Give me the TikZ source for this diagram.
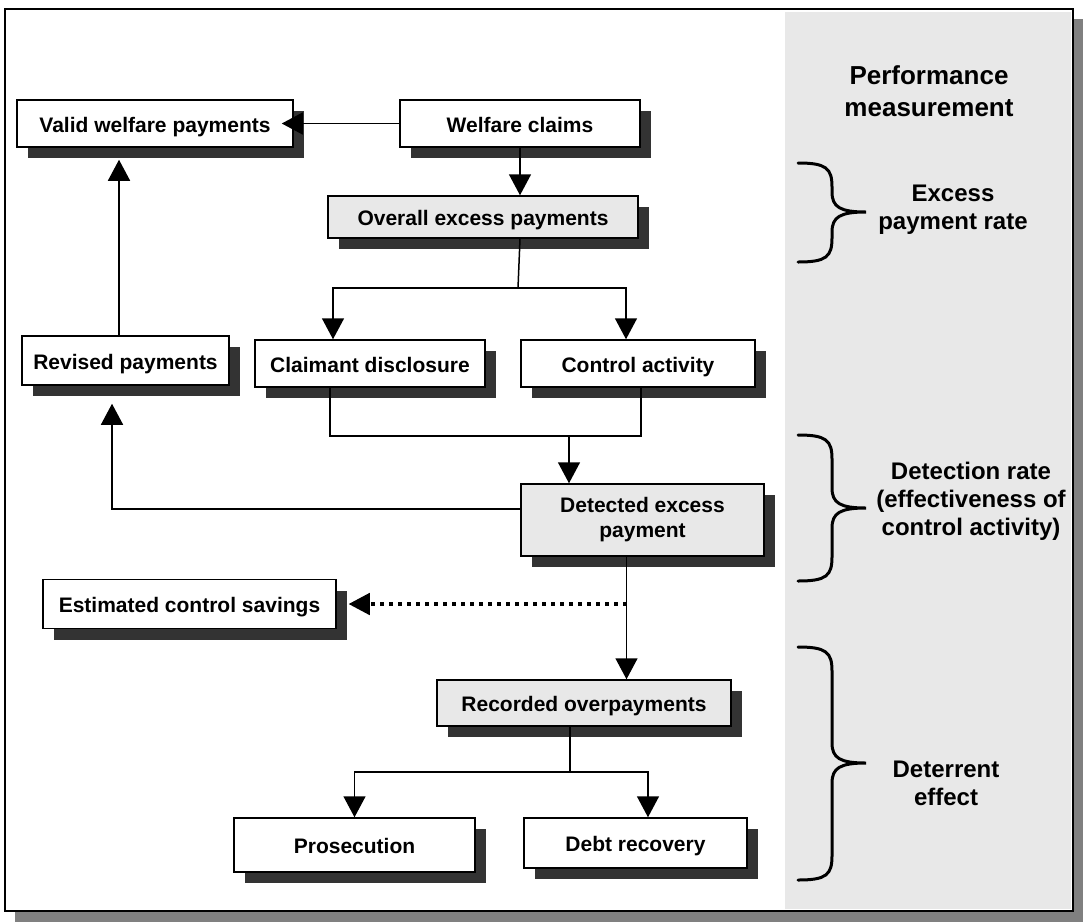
\documentclass[tikz,border=0pt]{standalone}
\usepackage{fontspec}
\setmainfont{Liberation Sans}
\usepackage{xcolor}
\usepackage{tikz}
\usetikzlibrary{arrows.meta}
\usetikzlibrary{shadows}

\definecolor{panelgray}{HTML}{E8E8E8}
\definecolor{shadowgray}{HTML}{333333}
\definecolor{framegray}{HTML}{808080}

\begin{document}
\begin{tikzpicture}[
      x=1pt, y=-1pt,
      box/.style={draw=black, line width=1.5pt, fill=white, inner sep=0pt, align=center,
        font=\bfseries\fontsize{21}{25}\selectfont, text height=17pt, text depth=0pt,
        drop shadow={shadow xshift=11pt, shadow yshift=-11pt, fill=shadowgray, opacity=1}},
      greybox/.style={box, fill=panelgray},
      link/.style={line width=1.5pt},
      arr/.style={link, -{Triangle[length=21pt, width=22pt]}},
      dotarr/.style={line width=3.5pt, dash pattern=on 4pt off 5pt,
        -{Triangle[length=21pt, width=22pt, line width=1.5pt]}},
      brace/.style={line width=3pt, line cap=round},
      lbl/.style={font=\bfseries\fontsize{24}{28}\selectfont, align=center}
    ]
    \useasboundingbox (0,0) rectangle (1083,922);

    % Cornice, ombra e pannello
    \fill[framegray] (15,19) rectangle (1083,922);
    \draw[line width=1.5pt, fill=white] (5,9) rectangle (1073,911);
    \fill[panelgray] (785,12) rectangle (1071,909);

    % Riquadri
    \node[box, minimum width=276, minimum height=47] (valid) at (155,123.5) {Valid welfare payments};
    \node[box, minimum width=240, minimum height=47] (claims) at (520,123.5) {Welfare claims};
    \node[greybox, minimum width=310, minimum height=42] (overall) at (483,217) {Overall excess payments};
    \node[box, minimum width=207, minimum height=49] (revised) at (125.5,360.5) {Revised payments};
    \node[box, minimum width=230, minimum height=47] (claimant) at (370,363.5) {Claimant disclosure};
    \node[box, minimum width=234, minimum height=47] (control) at (638,363.5) {Control activity};
    \node[greybox, minimum width=243, minimum height=72, text height={}, text depth={}] (detected) at (642.5,520) {Detected excess\\payment};
    \node[box, minimum width=293, minimum height=49] (savings) at (189.5,604) {Estimated control savings};
    \node[greybox, minimum width=294, minimum height=46] (recorded) at (584,703) {Recorded overpayments};
    \node[box, minimum width=241, minimum height=54] (prosecution) at (354.5,845) {Prosecution};
    \node[box, minimum width=223, minimum height=50] (debt) at (635.5,843) {Debt recovery};

    % Punti di snodo
    \coordinate (split1) at (518,288);
    \coordinate (join1) at (569,436);
    \coordinate (split2) at (570,772);
    \coordinate (save) at ([xshift=-16pt]detected.south |- savings.east);

    % Collegamenti
    \draw[arr, shorten >=-12pt] (claims.west) -- (valid.east);
    \draw[arr] (claims.south) -- (claims.south |- overall.north);
    \draw[link] (claims.south |- overall.south) -- (split1);
    \draw[arr] (split1) -| ([xshift=-37pt]claimant.north);
    \draw[arr] (split1) -| ([xshift=-12pt]control.north);
    \draw[link] ([xshift=-40pt]claimant.south) |- (join1) -| ([xshift=3pt]control.south);
    \draw[arr] (join1) -- (join1 |- detected.north);
    \draw[arr] ([yshift=11pt]detected.west) -| ([xshift=-13.5pt, yshift=-18pt]revised.south);
    \draw[arr] ([xshift=-6.5pt]revised.north) -- ([xshift=-36pt, yshift=-12pt]valid.south);
    \draw[arr] ([xshift=-16pt]detected.south) -- ([xshift=-16pt]detected.south |- recorded.north);
    \draw[dotarr] (save) -- ([xshift=12pt]savings.east);
    \draw[link] ([xshift=-14pt]recorded.south) -- (split2);
    \draw[arr] (split2) -| (prosecution.north);
    \draw[arr] (split2) -| ([xshift=12.5pt]debt.north);

    % Parentesi graffe e misure
    \foreach \t/\m/\b in {163/212/262, 435/508/581, 647/763/880}
      \draw[brace] (798,\t) .. controls (826,\t) and (832,\t+5) .. (832,\t+24)
        -- (832,\m-20) .. controls (832,\m-5) and (840,\m) .. (866,\m)
        .. controls (840,\m) and (832,\m+5) .. (832,\m+20)
        -- (832,\b-24) .. controls (832,\b-5) and (826,\b) .. (798,\b);

    \node[lbl, font=\bfseries\fontsize{26}{32}\selectfont] (perf) at (929,91) {Performance\\measurement};
    \node[lbl] (excess) at (953,210) {Excess\\payment rate};
    \node[lbl] (detrate) at (971,501) {Detection rate\\(effectiveness of\\control activity)};
    \node[lbl] (deter) at (946,783) {Deterrent\\effect};
  \end{tikzpicture}
\end{document}
